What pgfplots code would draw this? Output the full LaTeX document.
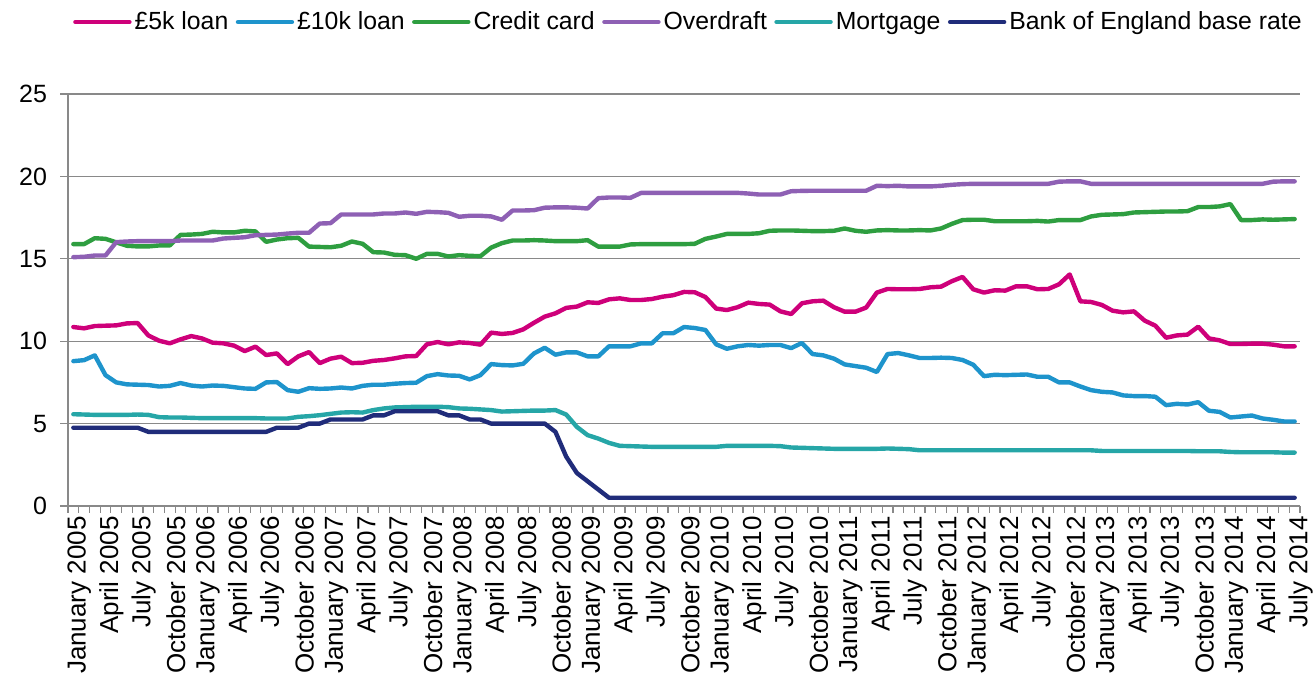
\documentclass[border=0pt]{standalone}
\usepackage{fontspec}
\setmainfont{Liberation Sans}
\usepackage{pgfplots}
\usepackage{pgfplotstable}
\pgfplotsset{compat=1.18}
\definecolor{cA}{RGB}{206,0,122}
\definecolor{cB}{RGB}{30,148,204}
\definecolor{cC}{RGB}{46,158,64}
\definecolor{cD}{RGB}{142,96,180}
\definecolor{cE}{RGB}{38,166,167}
\definecolor{cF}{RGB}{32,44,122}
\definecolor{axgray}{RGB}{137,137,137}
% i: month index (0 = January 2005)
% a: 5k loan, b: 10k loan, c: credit card, d: overdraft, e: mortgage, f: base rate
\pgfplotstableread{
i a b c d e f
0 10.86 8.79 15.89 15.10 5.57 4.75
1 10.78 8.85 15.89 15.12 5.55 4.75
2 10.92 9.14 16.25 15.20 5.53 4.75
3 10.94 7.94 16.21 15.20 5.53 4.75
4 10.96 7.50 16.00 16.01 5.53 4.75
5 11.08 7.38 15.79 16.05 5.53 4.75
6 11.10 7.36 15.75 16.07 5.55 4.75
7 10.35 7.34 15.75 16.07 5.53 4.50
8 10.03 7.25 15.81 16.07 5.39 4.50
9 9.87 7.29 15.81 16.07 5.37 4.50
10 10.11 7.46 16.45 16.11 5.37 4.50
11 10.31 7.31 16.47 16.11 5.35 4.50
12 10.17 7.25 16.51 16.11 5.33 4.50
13 9.91 7.31 16.64 16.11 5.33 4.50
14 9.87 7.29 16.60 16.23 5.33 4.50
15 9.73 7.21 16.60 16.27 5.33 4.50
16 9.40 7.13 16.70 16.31 5.33 4.50
17 9.67 7.11 16.66 16.43 5.33 4.50
18 9.16 7.50 16.03 16.45 5.31 4.50
19 9.26 7.52 16.17 16.47 5.31 4.75
20 8.61 7.03 16.25 16.53 5.31 4.75
21 9.08 6.93 16.27 16.58 5.41 4.75
22 9.34 7.15 15.74 16.58 5.45 5.00
23 8.67 7.11 15.72 17.14 5.51 5.00
24 8.94 7.13 15.70 17.16 5.59 5.25
25 9.06 7.19 15.79 17.69 5.67 5.25
26 8.67 7.13 16.05 17.69 5.69 5.25
27 8.69 7.29 15.91 17.69 5.67 5.25
28 8.81 7.36 15.40 17.69 5.82 5.50
29 8.86 7.36 15.38 17.75 5.92 5.50
30 8.96 7.42 15.24 17.75 5.98 5.75
31 9.08 7.46 15.22 17.81 6.00 5.75
32 9.10 7.48 15.00 17.73 6.02 5.75
33 9.81 7.88 15.30 17.85 6.02 5.75
34 9.95 8.00 15.30 17.83 6.02 5.75
35 9.81 7.92 15.14 17.79 6.00 5.50
36 9.93 7.90 15.22 17.55 5.92 5.50
37 9.89 7.68 15.18 17.61 5.90 5.25
38 9.79 7.94 15.16 17.61 5.86 5.25
39 10.52 8.61 15.68 17.57 5.82 5.00
40 10.44 8.55 15.95 17.37 5.73 5.00
41 10.50 8.53 16.11 17.93 5.75 5.00
42 10.72 8.63 16.11 17.93 5.77 5.00
43 11.12 9.26 16.13 17.95 5.79 5.00
44 11.49 9.60 16.11 18.10 5.79 5.00
45 11.69 9.18 16.07 18.12 5.82 4.50
46 12.02 9.32 16.07 18.12 5.55 3.00
47 12.10 9.32 16.07 18.10 4.80 2.00
48 12.36 9.08 16.13 18.05 4.30 1.50
49 12.32 9.08 15.74 18.68 4.09 1.00
50 12.54 9.69 15.74 18.72 3.83 0.50
51 12.60 9.69 15.74 18.72 3.65 0.50
52 12.50 9.69 15.87 18.70 3.63 0.50
53 12.50 9.87 15.89 19.00 3.61 0.50
54 12.56 9.87 15.89 19.00 3.59 0.50
55 12.70 10.48 15.89 19.00 3.59 0.50
56 12.79 10.48 15.89 19.00 3.59 0.50
57 12.99 10.86 15.89 19.00 3.59 0.50
58 12.97 10.80 15.91 19.00 3.59 0.50
59 12.68 10.68 16.21 19.00 3.59 0.50
60 11.98 9.81 16.35 19.00 3.59 0.50
61 11.89 9.54 16.51 19.00 3.65 0.50
62 12.06 9.69 16.51 19.00 3.65 0.50
63 12.34 9.77 16.51 18.96 3.65 0.50
64 12.26 9.73 16.55 18.90 3.65 0.50
65 12.22 9.77 16.70 18.90 3.65 0.50
66 11.81 9.77 16.72 18.90 3.63 0.50
67 11.65 9.58 16.72 19.10 3.55 0.50
68 12.30 9.89 16.70 19.12 3.53 0.50
69 12.42 9.22 16.68 19.13 3.51 0.50
70 12.46 9.14 16.68 19.13 3.49 0.50
71 12.06 8.94 16.70 19.13 3.47 0.50
72 11.79 8.59 16.84 19.13 3.47 0.50
73 11.79 8.49 16.70 19.13 3.47 0.50
74 12.04 8.39 16.64 19.13 3.47 0.50
75 12.95 8.13 16.72 19.43 3.47 0.50
76 13.17 9.22 16.74 19.41 3.49 0.50
77 13.15 9.28 16.72 19.43 3.47 0.50
78 13.15 9.14 16.72 19.39 3.45 0.50
79 13.17 8.98 16.74 19.39 3.38 0.50
80 13.27 8.98 16.72 19.39 3.38 0.50
81 13.31 9.00 16.84 19.43 3.38 0.50
82 13.64 8.98 17.12 19.49 3.38 0.50
83 13.90 8.86 17.35 19.53 3.38 0.50
84 13.15 8.57 17.37 19.55 3.38 0.50
85 12.95 7.88 17.37 19.55 3.38 0.50
86 13.09 7.96 17.28 19.55 3.38 0.50
87 13.07 7.94 17.28 19.55 3.38 0.50
88 13.33 7.96 17.28 19.55 3.38 0.50
89 13.33 7.98 17.28 19.55 3.38 0.50
90 13.15 7.84 17.30 19.55 3.38 0.50
91 13.17 7.84 17.26 19.55 3.38 0.50
92 13.45 7.50 17.35 19.68 3.38 0.50
93 14.05 7.50 17.35 19.70 3.38 0.50
94 12.42 7.25 17.35 19.70 3.38 0.50
95 12.38 7.03 17.57 19.55 3.38 0.50
96 12.20 6.93 17.67 19.55 3.34 0.50
97 11.85 6.89 17.69 19.55 3.34 0.50
98 11.75 6.71 17.71 19.55 3.34 0.50
99 11.81 6.67 17.81 19.55 3.34 0.50
100 11.25 6.67 17.83 19.55 3.34 0.50
101 10.94 6.63 17.85 19.55 3.34 0.50
102 10.21 6.12 17.87 19.55 3.34 0.50
103 10.35 6.20 17.87 19.55 3.34 0.50
104 10.40 6.16 17.89 19.55 3.34 0.50
105 10.88 6.30 18.14 19.55 3.32 0.50
106 10.17 5.78 18.14 19.55 3.32 0.50
107 10.05 5.71 18.18 19.55 3.32 0.50
108 9.83 5.37 18.32 19.55 3.28 0.50
109 9.83 5.43 17.35 19.55 3.26 0.50
110 9.85 5.49 17.35 19.55 3.26 0.50
111 9.85 5.31 17.39 19.55 3.26 0.50
112 9.79 5.23 17.37 19.68 3.26 0.50
113 9.69 5.13 17.39 19.70 3.24 0.50
114 9.69 5.13 17.41 19.70 3.24 0.50
}\rates
\begin{document}
\begin{tikzpicture}
\begin{axis}[
  at={(0,0)}, anchor=south west,
  scale only axis, width=616pt, height=206pt,
  xmin=-0.5, xmax=114.5, ymin=0, ymax=25,
  axis x line*=bottom, axis y line*=left,
  axis line style={draw=axgray, line width=0.6pt, -},
  ytick={0,5,...,25}, ymajorgrids,
  grid style={draw=axgray, line width=0.6pt},
  xtick={0,3,...,114},
  minor xtick={-0.5,0.5,...,114.5},
  tick align=outside,
  major tick length=4pt, minor tick length=3.5pt,
  major x tick style={draw=none},
  minor x tick style={draw=axgray, line width=0.6pt},
  major y tick style={draw=axgray, line width=0.6pt},
  xticklabels={January 2005,April 2005,July 2005,October 2005,
    January 2006,April 2006,July 2006,October 2006,
    January 2007,April 2007,July 2007,October 2007,
    January 2008,April 2008,July 2008,October 2008,
    January 2009,April 2009,July 2009,October 2009,
    January 2010,April 2010,July 2010,October 2010,
    January 2011,April 2011,July 2011,October 2011,
    January 2012,April 2012,July 2012,October 2012,
    January 2013,April 2013,July 2013,October 2013,
    January 2014,April 2014,July 2014},
  xticklabel style={rotate=90, anchor=east, inner sep=1pt, yshift=-3pt,
    font=\fontsize{13}{15}\selectfont},
  yticklabel style={font=\fontsize{12.5}{15}\selectfont, xshift=-3pt},
  /pgf/number format/assume math mode=true,
  legend columns=6,
  legend style={draw=none, fill=none, at={(rel axis cs:0.504,1)}, yshift=36pt,
    anchor=center, font=\fontsize{12.4}{14}\selectfont,
    /tikz/every even column/.append style={column sep=2.2pt},
    nodes={inner sep=1.5pt}},
  legend image code/.code={\draw[#1, line cap=round] (0pt,0pt) -- (27pt,0pt);},
  every axis plot/.append style={line width=2.2pt, line join=round, line cap=round},
]
\addplot[cA] table[x=i, y=a] {\rates};
\addlegendentry{£5k loan}
\addplot[cB] table[x=i, y=b] {\rates};
\addlegendentry{£10k loan}
\addplot[cC] table[x=i, y=c] {\rates};
\addlegendentry{Credit card}
\addplot[cD] table[x=i, y=d] {\rates};
\addlegendentry{Overdraft}
\addplot[cE] table[x=i, y=e] {\rates};
\addlegendentry{Mortgage}
\addplot[cF] table[x=i, y=f] {\rates};
\addlegendentry{Bank of England base rate}
\end{axis}
\pgfresetboundingbox
\path (-34pt,-94.5pt) rectangle (624pt,253pt);
\end{tikzpicture}
\end{document}
